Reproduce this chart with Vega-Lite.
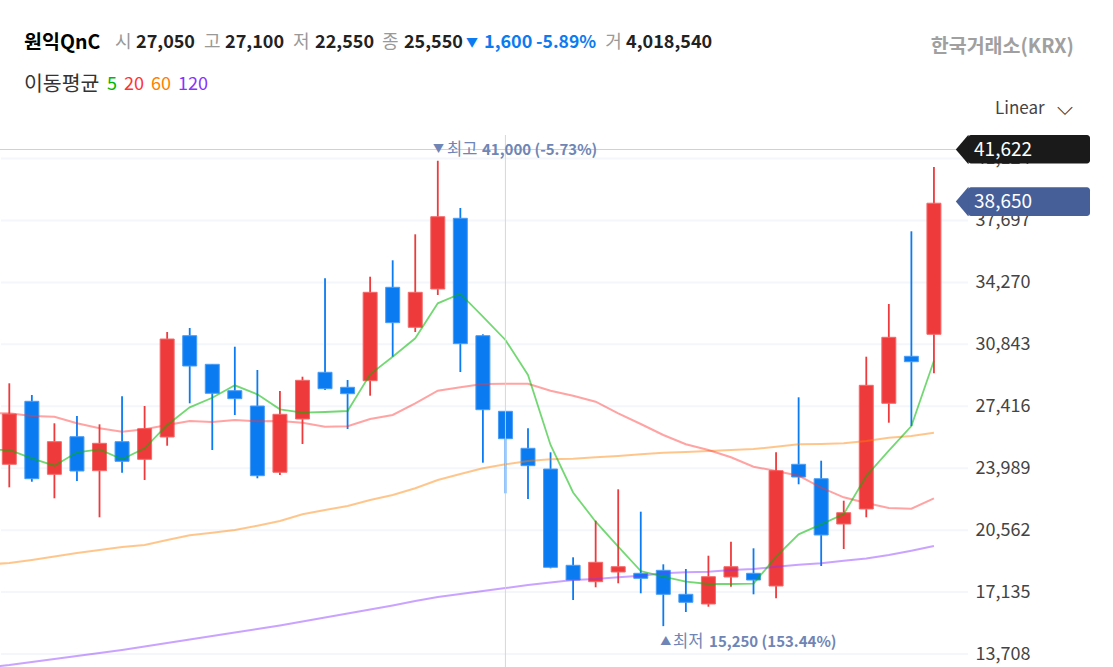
{"$schema":"https://vega.github.io/schema/vega-lite/v6.json","autosize":{"type":"none"},"width":1113,"height":667,"padding":0,"background":"#ffffff",
"config":{"view":{"stroke":null},"axisX":{"disable":true},"text":{"font":"Noto Sans CJK KR","baseline":"middle","align":"left","fontSize":18}},
"datasets":{
"levels":[{"level":13708},{"level":17135},{"level":20562},{"level":23989},{"level":27416},{"level":30843},{"level":34270},{"level":37697},{"level":41124}],
"candles":[
{"day":0,"open":24204,"high":28686,"low":22931,"close":26987,"dir":"up"},
{"day":1,"open":27690,"high":28038,"low":23241,"close":23407,"dir":"down"},
{"day":2,"open":23651,"high":26473,"low":22323,"close":25455,"dir":"up"},
{"day":3,"open":25731,"high":26877,"low":23280,"close":23833,"dir":"down"},
{"day":4,"open":23850,"high":26417,"low":21272,"close":25366,"dir":"up"},
{"day":5,"open":25455,"high":27966,"low":23739,"close":24370,"dir":"down"},
{"day":6,"open":24481,"high":27430,"low":23335,"close":26174,"dir":"up"},
{"day":7,"open":25715,"high":31524,"low":25233,"close":31137,"dir":"up"},
{"day":8,"open":31320,"high":31746,"low":27579,"close":29643,"dir":"down"},
{"day":9,"open":29737,"high":29737,"low":24995,"close":28133,"dir":"down"},
{"day":10,"open":28277,"high":30711,"low":26932,"close":27834,"dir":"down"},
{"day":11,"open":27430,"high":29422,"low":23430,"close":23573,"dir":"down"},
{"day":12,"open":23762,"high":28260,"low":23612,"close":26971,"dir":"up"},
{"day":13,"open":26711,"high":29051,"low":25327,"close":28852,"dir":"up"},
{"day":14,"open":29295,"high":34495,"low":28315,"close":28387,"dir":"down"},
{"day":15,"open":28465,"high":28868,"low":26157,"close":28110,"dir":"down"},
{"day":16,"open":28830,"high":34584,"low":28000,"close":33721,"dir":"up"},
{"day":17,"open":33998,"high":35491,"low":30158,"close":32039,"dir":"down"},
{"day":18,"open":31784,"high":36930,"low":31524,"close":33721,"dir":"up"},
{"day":19,"open":33903,"high":41000,"low":33571,"close":37904,"dir":"up"},
{"day":20,"open":37815,"high":38385,"low":29311,"close":30877,"dir":"down"},
{"day":21,"open":31320,"high":31397,"low":24293,"close":27225,"dir":"down"},
{"day":22,"open":27137,"high":27137,"low":22600,"close":25621,"dir":"down"},
{"day":23,"open":25089,"high":26196,"low":22284,"close":24127,"dir":"down"},
{"day":24,"open":23944,"high":24868,"low":18450,"close":18505,"dir":"down"},
{"day":25,"open":18616,"high":19058,"low":16696,"close":17802,"dir":"down"},
{"day":26,"open":17708,"high":21084,"low":17399,"close":18782,"dir":"up"},
{"day":27,"open":18245,"high":22821,"low":17620,"close":18538,"dir":"up"},
{"day":28,"open":18173,"high":21582,"low":17067,"close":17896,"dir":"down"},
{"day":29,"open":18339,"high":18671,"low":15250,"close":17011,"dir":"down"},
{"day":30,"open":17011,"high":18411,"low":16032,"close":16569,"dir":"down"},
{"day":31,"open":16475,"high":19147,"low":16325,"close":17985,"dir":"up"},
{"day":32,"open":17968,"high":19922,"low":17432,"close":18538,"dir":"up"},
{"day":33,"open":18173,"high":19556,"low":17011,"close":17802,"dir":"down"},
{"day":34,"open":17470,"high":24868,"low":16790,"close":23850,"dir":"up"},
{"day":35,"open":24204,"high":27911,"low":23098,"close":23501,"dir":"down"},
{"day":36,"open":23407,"high":24403,"low":18577,"close":20292,"dir":"down"},
{"day":37,"open":20901,"high":22190,"low":19518,"close":21526,"dir":"up"},
{"day":38,"open":21731,"high":30158,"low":21272,"close":28575,"dir":"up"},
{"day":39,"open":27579,"high":33074,"low":26506,"close":31231,"dir":"up"},
{"day":40,"open":30180,"high":37096,"low":26323,"close":29881,"dir":"down"},
{"day":41,"open":31397,"high":40654,"low":29239,"close":38650,"dir":"up"}],
"averages":[
{"day":-1,"ma5":25023,"ma20":27043,"ma60":18660,"ma120":12961},
{"day":0,"ma5":24995,"ma20":27026,"ma60":18743,"ma120":13099},
{"day":1,"ma5":24536,"ma20":26877,"ma60":18909,"ma120":13265},
{"day":2,"ma5":24127,"ma20":26838,"ma60":19103,"ma120":13431},
{"day":3,"ma5":24868,"ma20":26473,"ma60":19296,"ma120":13597},
{"day":4,"ma5":25034,"ma20":26196,"ma60":19462,"ma120":13763},
{"day":5,"ma5":24481,"ma20":26008,"ma60":19628,"ma120":13929},
{"day":6,"ma5":25089,"ma20":26141,"ma60":19739,"ma120":14123},
{"day":7,"ma5":26379,"ma20":26379,"ma60":20016,"ma120":14317},
{"day":8,"ma5":27358,"ma20":26600,"ma60":20276,"ma120":14510},
{"day":9,"ma5":27889,"ma20":26545,"ma60":20420,"ma120":14704},
{"day":10,"ma5":28575,"ma20":26655,"ma60":20569,"ma120":14898},
{"day":11,"ma5":28077,"ma20":26583,"ma60":20807,"ma120":15091},
{"day":12,"ma5":27247,"ma20":26600,"ma60":21067,"ma120":15285},
{"day":13,"ma5":27059,"ma20":26506,"ma60":21438,"ma120":15506},
{"day":14,"ma5":27098,"ma20":26285,"ma60":21676,"ma120":15728},
{"day":15,"ma5":27153,"ma20":26307,"ma60":21897,"ma120":15949},
{"day":16,"ma5":29184,"ma20":26711,"ma60":22229,"ma120":16170},
{"day":17,"ma5":30158,"ma20":26932,"ma60":22505,"ma120":16392},
{"day":18,"ma5":31176,"ma20":27579,"ma60":22876,"ma120":16640},
{"day":19,"ma5":33112,"ma20":28277,"ma60":23335,"ma120":16862},
{"day":20,"ma5":33643,"ma20":28465,"ma60":23667,"ma120":17028},
{"day":21,"ma5":32371,"ma20":28647,"ma60":23983,"ma120":17194},
{"day":22,"ma5":31082,"ma20":28664,"ma60":24204,"ma120":17360},
{"day":23,"ma5":29145,"ma20":28664,"ma60":24387,"ma120":17526},
{"day":24,"ma5":25272,"ma20":28277,"ma60":24481,"ma120":17664},
{"day":25,"ma5":22644,"ma20":28000,"ma60":24514,"ma120":17802},
{"day":26,"ma5":21028,"ma20":27668,"ma60":24591,"ma120":17858},
{"day":27,"ma5":19645,"ma20":27026,"ma60":24663,"ma120":17952},
{"day":28,"ma5":18300,"ma20":26434,"ma60":24757,"ma120":18040},
{"day":29,"ma5":17985,"ma20":25825,"ma60":24846,"ma120":18173},
{"day":30,"ma5":17708,"ma20":25311,"ma60":24885,"ma120":18228},
{"day":31,"ma5":17581,"ma20":24995,"ma60":24940,"ma120":18262},
{"day":32,"ma5":17581,"ma20":24591,"ma60":24995,"ma120":18356},
{"day":33,"ma5":17598,"ma20":24071,"ma60":25051,"ma120":18411},
{"day":34,"ma5":19092,"ma20":23833,"ma60":25178,"ma120":18538},
{"day":35,"ma5":20331,"ma20":23573,"ma60":25311,"ma120":18649},
{"day":36,"ma5":20884,"ma20":22909,"ma60":25327,"ma120":18726},
{"day":37,"ma5":21454,"ma20":22378,"ma60":25366,"ma120":18870},
{"day":38,"ma5":23557,"ma20":22063,"ma60":25493,"ma120":18992},
{"day":39,"ma5":24957,"ma20":21786,"ma60":25676,"ma120":19186},
{"day":40,"ma5":26323,"ma20":21747,"ma60":25770,"ma120":19424},
{"day":41,"ma5":29936,"ma20":22323,"ma60":25953,"ma120":19684}]},
"layer":[
{"data":{"name":"levels"},"mark":{"type":"rule","color":"#f3f6fa","strokeWidth":2},"encoding":{
"x":{"datum":-0.37,"type":"quantitative","scale":{"domain":[-0.4124,48.94],"nice":false,"zero":false,"padding":0}},"x2":{"datum":42.51},
"y":{"field":"level","type":"quantitative","scale":{"domain":[12989,49894],"nice":false,"zero":false},"axis":{"title":null,"orient":"right","offset":-138,"values":[13708,17135,20562,23989,27416,30843,34270,37697,41124],"format":",d","grid":false,"ticks":false,"domain":false,"labelPadding":0,"labelAlign":"left","labelFont":"Noto Sans CJK KR","labelFontSize":18,"labelColor":"#444444"}}}},
{"data":{"values":[{"current":41622}]},"mark":{"type":"rule","color":"#ccd2dc","strokeWidth":1},"encoding":{"x":{"datum":-0.4124,"type":"quantitative"},"x2":{"datum":42.0},"y":{"field":"current","type":"quantitative"}}},
{"data":{"name":"candles"},"mark":{"type":"rule","strokeWidth":1.8,"clip":true},"encoding":{"x":{"field":"day","type":"quantitative"},"y":{"field":"high","type":"quantitative"},"y2":{"field":"low"},"color":{"field":"dir","type":"nominal","scale":{"domain":["up","down"],"range":["#ef3a3c","#0b7bf2"]},"legend":null}}},
{"data":{"name":"candles"},"mark":{"type":"bar","size":14,"strokeWidth":1,"clip":true},"encoding":{"x":{"field":"day","type":"quantitative"},"y":{"field":"open","type":"quantitative"},"y2":{"field":"close"},"fill":{"field":"dir","type":"nominal","scale":{"domain":["up","down"],"range":["#ef3a3c","#0b7bf2"]},"legend":null},"stroke":{"field":"dir","type":"nominal","scale":{"domain":["up","down"],"range":["#f46a6b","#4a9df5"]},"legend":null}}},
{"data":{"name":"averages"},"mark":{"type":"line","color":"#ff8000","strokeWidth":2,"opacity":0.45,"clip":true},"encoding":{"x":{"field":"day","type":"quantitative"},"y":{"field":"ma60","type":"quantitative"}}},
{"data":{"name":"averages"},"mark":{"type":"line","color":"#8833ff","strokeWidth":2,"opacity":0.45,"clip":true},"encoding":{"x":{"field":"day","type":"quantitative"},"y":{"field":"ma120","type":"quantitative"}}},
{"data":{"name":"averages"},"mark":{"type":"line","color":"#ff3333","strokeWidth":2,"opacity":0.45,"clip":true},"encoding":{"x":{"field":"day","type":"quantitative"},"y":{"field":"ma20","type":"quantitative"}}},
{"data":{"name":"averages"},"mark":{"type":"line","color":"#00b800","strokeWidth":1.8,"opacity":0.55,"clip":true},"encoding":{"x":{"field":"day","type":"quantitative"},"y":{"field":"ma5","type":"quantitative"}}},
{"data":{"values":[{"day":22,"top":42424}]},"mark":{"type":"rule","color":"#cfd4dc","strokeWidth":1,"opacity":0.9,"clip":true},"encoding":{"x":{"field":"day","type":"quantitative"},"y":{"field":"top","type":"quantitative"},"y2":{"datum":12989}}},
{"data":{"values":[{"price":41622}]},"mark":{"type":"bar","color":"#1a1a1a","cornerRadius":3},"encoding":{"x":{"datum":42.51,"type":"quantitative"},"x2":{"datum":47.92},"y":{"datum":42424,"type":"quantitative"},"y2":{"datum":40847}}},
{"data":{"values":[{"price":41622}]},"mark":{"type":"point","filled":true,"opacity":1,"color":"#1a1a1a","shape":"M -0.85 0 L 0 -1 L 0.05 -1 L 0.05 1 L 0 1 Z","size":818},"encoding":{"x":{"datum":42.51,"type":"quantitative"},"y":{"field":"price","type":"quantitative"}}},
{"data":{"values":[{"price":38740}]},"mark":{"type":"bar","color":"#465f99","cornerRadius":3},"encoding":{"x":{"datum":42.51,"type":"quantitative"},"x2":{"datum":47.92},"y":{"datum":39530,"type":"quantitative"},"y2":{"datum":37943}}},
{"data":{"values":[{"price":38740}]},"mark":{"type":"point","filled":true,"opacity":1,"color":"#465f99","shape":"M -0.85 0 L 0 -1 L 0.05 -1 L 0.05 1 L 0 1 Z","size":818},"encoding":{"x":{"datum":42.51,"type":"quantitative"},"y":{"field":"price","type":"quantitative"}}},
{"data":{"values":[{"label":"41,622"}]},"mark":{"type":"text","color":"#ffffff","fontSize":19},"encoding":{"text":{"field":"label"},"x":{"datum":42.78,"type":"quantitative"},"y":{"datum":41570,"type":"quantitative"}}},
{"data":{"values":[{"label":"38,650"}]},"mark":{"type":"text","color":"#ffffff","fontSize":19},"encoding":{"text":{"field":"label"},"x":{"datum":42.78,"type":"quantitative"},"y":{"datum":38690,"type":"quantitative"}}},
{"data":{"values":[{"label":"▼"}]},"mark":{"type":"text","color":"#6f85b5","fontSize":11},"encoding":{"text":{"field":"label"},"x":{"datum":18.79,"type":"quantitative"},"y":{"datum":41600,"type":"quantitative"}}},
{"data":{"values":[{"label":"최고"}]},"mark":{"type":"text","color":"#6f85b5","fontSize":16.5},"encoding":{"text":{"field":"label"},"x":{"datum":19.41,"type":"quantitative"},"y":{"datum":41600,"type":"quantitative"}}},
{"data":{"values":[{"label":"41,000 (-5.73%)"}]},"mark":{"type":"text","color":"#6f85b5","fontSize":15,"fontWeight":"bold"},"encoding":{"text":{"field":"label"},"x":{"datum":20.96,"type":"quantitative"},"y":{"datum":41600,"type":"quantitative"}}},
{"data":{"values":[{"label":"▲"}]},"mark":{"type":"text","color":"#6f85b5","fontSize":11},"encoding":{"text":{"field":"label"},"x":{"datum":28.86,"type":"quantitative"},"y":{"datum":14370,"type":"quantitative"}}},
{"data":{"values":[{"label":"최저"}]},"mark":{"type":"text","color":"#6f85b5","fontSize":16.5},"encoding":{"text":{"field":"label"},"x":{"datum":29.43,"type":"quantitative"},"y":{"datum":14370,"type":"quantitative"}}},
{"data":{"values":[{"label":"15,250 (153.44%)"}]},"mark":{"type":"text","color":"#6f85b5","fontSize":15,"fontWeight":"bold"},"encoding":{"text":{"field":"label"},"x":{"datum":31.03,"type":"quantitative"},"y":{"datum":14370,"type":"quantitative"}}},
{"data":{"values":[{"label":"원익QnC"}]},"mark":{"type":"text","color":"#000000","fontWeight":"bold","fontSize":19.5},"encoding":{"text":{"field":"label"},"x":{"datum":0.652,"type":"quantitative"},"y":{"datum":47540,"type":"quantitative"}}},
{"data":{"values":[{"label":"시"}]},"mark":{"type":"text","color":"#999999"},"encoding":{"text":{"field":"label"},"x":{"datum":4.69,"type":"quantitative"},"y":{"datum":47540,"type":"quantitative"}}},
{"data":{"values":[{"label":"27,050"}]},"mark":{"type":"text","color":"#222222","fontWeight":"bold"},"encoding":{"text":{"field":"label"},"x":{"datum":5.62,"type":"quantitative"},"y":{"datum":47540,"type":"quantitative"}}},
{"data":{"values":[{"label":"고"}]},"mark":{"type":"text","color":"#999999"},"encoding":{"text":{"field":"label"},"x":{"datum":8.63,"type":"quantitative"},"y":{"datum":47540,"type":"quantitative"}}},
{"data":{"values":[{"label":"27,100"}]},"mark":{"type":"text","color":"#222222","fontWeight":"bold"},"encoding":{"text":{"field":"label"},"x":{"datum":9.57,"type":"quantitative"},"y":{"datum":47540,"type":"quantitative"}}},
{"data":{"values":[{"label":"저"}]},"mark":{"type":"text","color":"#999999"},"encoding":{"text":{"field":"label"},"x":{"datum":12.58,"type":"quantitative"},"y":{"datum":47540,"type":"quantitative"}}},
{"data":{"values":[{"label":"22,550"}]},"mark":{"type":"text","color":"#222222","fontWeight":"bold"},"encoding":{"text":{"field":"label"},"x":{"datum":13.56,"type":"quantitative"},"y":{"datum":47540,"type":"quantitative"}}},
{"data":{"values":[{"label":"종"}]},"mark":{"type":"text","color":"#999999"},"encoding":{"text":{"field":"label"},"x":{"datum":16.53,"type":"quantitative"},"y":{"datum":47540,"type":"quantitative"}}},
{"data":{"values":[{"label":"25,550"}]},"mark":{"type":"text","color":"#222222","fontWeight":"bold"},"encoding":{"text":{"field":"label"},"x":{"datum":17.50,"type":"quantitative"},"y":{"datum":47540,"type":"quantitative"}}},
{"data":{"values":[{"label":"▼"}]},"mark":{"type":"text","color":"#0b7bf2","fontSize":12},"encoding":{"text":{"field":"label"},"x":{"datum":20.25,"type":"quantitative"},"y":{"datum":47540,"type":"quantitative"}}},
{"data":{"values":[{"label":"1,600"}]},"mark":{"type":"text","color":"#0b7bf2","fontWeight":"bold"},"encoding":{"text":{"field":"label"},"x":{"datum":21.05,"type":"quantitative"},"y":{"datum":47540,"type":"quantitative"}}},
{"data":{"values":[{"label":"-5.89%"}]},"mark":{"type":"text","color":"#0b7bf2","fontWeight":"bold","fontSize":17.5},"encoding":{"text":{"field":"label"},"x":{"datum":23.36,"type":"quantitative"},"y":{"datum":47540,"type":"quantitative"}}},
{"data":{"values":[{"label":"거"}]},"mark":{"type":"text","color":"#999999"},"encoding":{"text":{"field":"label"},"x":{"datum":26.42,"type":"quantitative"},"y":{"datum":47540,"type":"quantitative"}}},
{"data":{"values":[{"label":"4,018,540"}]},"mark":{"type":"text","color":"#222222","fontWeight":"bold"},"encoding":{"text":{"field":"label"},"x":{"datum":27.35,"type":"quantitative"},"y":{"datum":47540,"type":"quantitative"}}},
{"data":{"values":[{"label":"한국거래소(KRX)"}]},"mark":{"type":"text","color":"#a0a0a0","fontWeight":"bold","align":"right","fontSize":19.5},"encoding":{"text":{"field":"label"},"x":{"datum":47.21,"type":"quantitative"},"y":{"datum":47300,"type":"quantitative"}}},
{"data":{"values":[{"label":"이동평균"}]},"mark":{"type":"text","color":"#333333","fontSize":20.5},"encoding":{"text":{"field":"label"},"x":{"datum":0.652,"type":"quantitative"},"y":{"datum":45190,"type":"quantitative"}}},
{"data":{"values":[{"label":"5"}]},"mark":{"type":"text","color":"#00b800","fontSize":18},"encoding":{"text":{"field":"label"},"x":{"datum":4.33,"type":"quantitative"},"y":{"datum":45190,"type":"quantitative"}}},
{"data":{"values":[{"label":"20"}]},"mark":{"type":"text","color":"#ff3333","fontSize":18},"encoding":{"text":{"field":"label"},"x":{"datum":5.09,"type":"quantitative"},"y":{"datum":45190,"type":"quantitative"}}},
{"data":{"values":[{"label":"60"}]},"mark":{"type":"text","color":"#ff8000","fontSize":18},"encoding":{"text":{"field":"label"},"x":{"datum":6.28,"type":"quantitative"},"y":{"datum":45190,"type":"quantitative"}}},
{"data":{"values":[{"label":"120"}]},"mark":{"type":"text","color":"#8833ff","fontSize":18},"encoding":{"text":{"field":"label"},"x":{"datum":7.48,"type":"quantitative"},"y":{"datum":45190,"type":"quantitative"}}},
{"data":{"values":[{"label":"Linear"}]},"mark":{"type":"text","color":"#444444","fontSize":17},"encoding":{"text":{"field":"label"},"x":{"datum":43.71,"type":"quantitative"},"y":{"datum":43870,"type":"quantitative"}}},
{"data":{"values":[{"label":"⌵"}]},"mark":{"type":"text","color":"#333333","font":"DejaVu Sans","fontSize":21},"encoding":{"text":{"field":"label"},"x":{"datum":46.46,"type":"quantitative"},"y":{"datum":43870,"type":"quantitative"}}}
]}
